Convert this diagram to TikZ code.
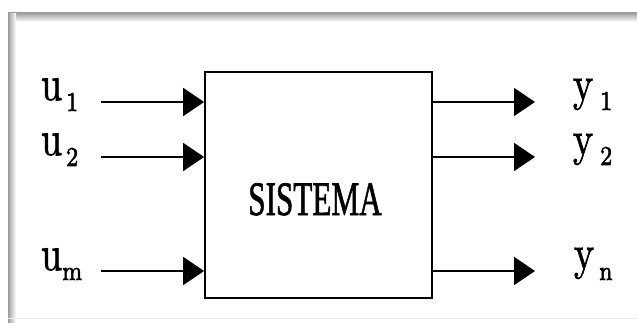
\documentclass[tikz,border=0pt]{standalone}
\usepackage{fontspec}
\usepackage{graphicx}
\newfontfamily\sisfont[FakeBold=1.5]{Liberation Serif}
\newfontfamily\labfont{lmroman10-regular.otf}[FakeBold=1.6]
\newfontfamily\subfont{lmroman7-regular.otf}[FakeBold=2.2]
\usetikzlibrary{arrows.meta}

% tall roman letters for the signal names, set at text size and enlarged
\newcommand{\sigmain}[1]{\scalebox{3.8}[4.9]{\fontsize{10}{10}\labfont #1}}
\newcommand{\sigsub}[1]{\scalebox{3.1}[3.9]{\fontsize{7}{7}\subfont #1}}

\tikzset{
  sigline/.style={line width=1.8pt, -{Triangle[length=21pt,width=28pt]}},
  lab/.style={inner sep=0pt, outer sep=0pt, anchor=base west},
  sysbox/.style={draw, line width=1.8pt, minimum width=227pt, minimum height=226pt,
                 inner sep=0pt, fill=white}
}

\begin{document}
\begin{tikzpicture}[x=1pt, y=-1pt]
  \useasboundingbox (0,0) rectangle (637,323);
  \fill[white] (0,0) rectangle (637,323);

  % framed panel with soft grey edges
  \shade[top color=gray!75, bottom color=white] (8,13) rectangle (637,22);
  \shade[left color=gray!75, right color=white] (8,13) rectangle (16,323);
  \draw[gray!80, line width=1pt] (8,323) -- (8,13) -- (637,13);
  \draw[gray!15, line width=0.8pt] (8,318) -- (637,318);

  % system block
  \node[sysbox] (sys) at (318.5,185) {};
  \node[inner sep=0pt, anchor=base] (title) at (315,215)
       {\scalebox{0.65}[1]{\fontsize{48}{48}\sisfont SISTEMA}};

  % inputs
  \coordinate (in1) at (101,102);
  \coordinate (in2) at (101,157);
  \coordinate (inm) at (101,271);
  \draw[sigline] (in1) -- (in1 -| sys.west);
  \draw[sigline] (in2) -- (in2 -| sys.west);
  \draw[sigline] (inm) -- (inm -| sys.west);

  % outputs
  \coordinate (out1) at (535,102);
  \coordinate (out2) at (535,157);
  \coordinate (outn) at (535,271);
  \draw[sigline] (out1 -| sys.east) -- (out1);
  \draw[sigline] (out2 -| sys.east) -- (out2);
  \draw[sigline] (outn -| sys.east) -- (outn);

  % input names
  \node[lab] (u1) at (41,100) {\sigmain{u}};
  \node[lab] (u1s) at (66,111) {\sigsub{1}};
  \node[lab] (u2) at (41,155) {\sigmain{u}};
  \node[lab] (u2s) at (66,166) {\sigsub{2}};
  \node[lab] (um) at (41,270) {\sigmain{u}};
  \node[lab] (ums) at (62,280) {\sigsub{m}};

  % output names
  \node[lab] (y1) at (573,100) {\sigmain{y}};
  \node[lab] (y1s) at (600,110) {\sigsub{1}};
  \node[lab] (y2) at (573,155) {\sigmain{y}};
  \node[lab] (y2s) at (600,165) {\sigsub{2}};
  \node[lab] (yn) at (574,269) {\sigmain{y}};
  \node[lab] (yns) at (599,280) {\sigsub{n}};
\end{tikzpicture}
\end{document}
